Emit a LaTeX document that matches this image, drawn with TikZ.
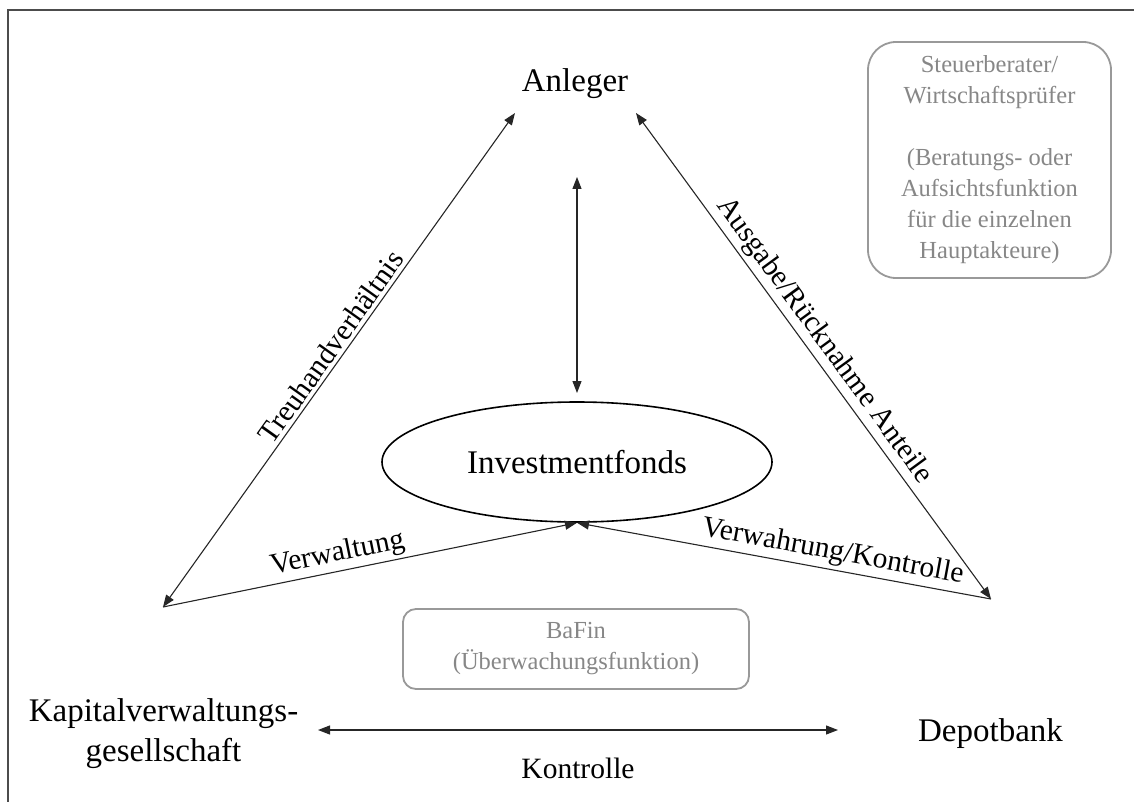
\documentclass[tikz,border=0pt]{standalone}
\usepackage{fontspec}
\setmainfont{Liberation Serif}
\usetikzlibrary{arrows.meta,shapes.geometric}
\begin{document}
\begin{tikzpicture}[x=1pt,y=-1pt,
  >={Triangle[length=12pt,width=9pt]},
  mainlbl/.style={font=\fontsize{33}{40}\selectfont, align=center, text=black},
  edgelbl/.style={font=\fontsize{29.5}{35}\selectfont, text=black},
  graybox/.style={draw=black!40, line width=1.8pt, text=black!47,
    font=\fontsize{24.5}{31}\selectfont, align=center, inner sep=0pt},
  conn/.style={line width=1.1pt, draw=black!85},
  frameline/.style={line width=2pt, draw=black!70}
]
\useasboundingbox (0,0) rectangle (1134,802);
% frame
\draw[frameline] (8,802) -- (8,10) -- (1134,10);

% main actors
\node[mainlbl] (anl) at (575,84) {Anleger};
\node[mainlbl] (kvg) at (163.5,734) {Kapitalverwaltungs-\\gesellschaft};
\node[mainlbl] (dep) at (990.5,734) {Depotbank};
\node[mainlbl, shape=ellipse, draw=black, line width=1.6pt, inner sep=0pt,
      minimum width=390pt, minimum height=120pt] (fonds) at (577,462) {Investmentfonds};

% gray boxes
\node[graybox, rounded corners=28pt, minimum width=243pt, minimum height=236pt] (stb) at (989.5,160)
  {Steuerberater/\\Wirtschaftsprüfer\\[31pt](Beratungs- oder\\Aufsichtsfunktion\\für die einzelnen\\Hauptakteure)};
\node[graybox, rounded corners=13pt, minimum width=346pt, minimum height=80pt] (bafin) at (576,649)
  {BaFin\\(Überwachungsfunktion)};

% connector end points
\coordinate (tL) at (515,113);
\coordinate (kL) at (163,607);
\coordinate (tR) at (636,113);
\coordinate (dR) at (991,599);
\coordinate (tM) at (577,177);
\coordinate (fT) at (577,393);
\coordinate (kK) at (318,730);
\coordinate (dK) at (838,730);

% connectors
\draw[conn,<->] (kL) -- node[edgelbl, sloped, above, pos=0.51] {Treuhandverhältnis} (tL);
\draw[conn,<->] (tR) -- node[edgelbl, sloped, above, pos=0.49] {Ausgabe/Rücknahme Anteile} (dR);
\draw[conn,<->] (tM) -- (fT);
\draw[conn,->] (kL) -- node[edgelbl, sloped, above, pos=0.43] {Verwaltung} (fonds.south);
\draw[conn,<-] (fonds.south) -- node[edgelbl, sloped, above, pos=0.61] {Verwahrung/Kontrolle} (dR);
\draw[conn,<->] (kK) -- node[edgelbl, below=24pt] {Kontrolle} (dK);
\end{tikzpicture}
\end{document}
